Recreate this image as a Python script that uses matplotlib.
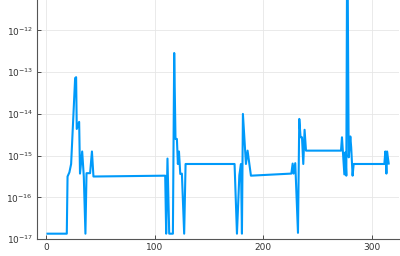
import numpy as np
import matplotlib
matplotlib.use("Agg")
import matplotlib.pyplot as plt

# breakpoints of the line (x = index, y = log10 value)
xs = [1, 18.8, 19.5, 21.2, 22.8, 26.5, 27.4, 28, 30.2, 31, 33, 34.5, 36, 37, 40.3,
      42, 43.4, 109.6, 110.5, 111.7, 113.3, 116.7, 117.9, 119.1, 120.4, 121.3, 122.3,
      123.5, 125, 127.1, 128.4, 173.6, 175.8, 178, 179.5, 180.4, 181.3, 184.1, 185.6,
      188.7, 226, 227.2, 228, 229.6, 232.1, 233.3, 234.5, 235.8, 237, 238.2, 239.5,
      271.8, 272.7, 274.9, 275.8, 276.7, 277.4, 277.9, 278.9, 280.4, 281.2, 282.5,
      283.5, 311.8, 312.7, 313.7, 314.3, 315.8]
log_vals = [-16.87, -16.87, -15.5, -15.4, -15.2, -13.14, -13.12, -14.36, -14.19, -15.43,
            -14.9, -15.5, -16.87, -15.42, -15.42, -14.9, -15.5, -15.48, -16.87, -15.07,
            -16.87, -16.87, -12.54, -14.6, -14.6, -15.2, -14.9, -15.44, -15.43, -16.87,
            -15.2, -15.2, -16.87, -15.47, -15.2, -16.87, -14.0, -15.2, -14.88, -15.48,
            -15.43, -15.19, -15.43, -15.18, -16.85, -14.12, -14.56, -14.56, -15.2, -14.38,
            -14.88, -14.88, -14.56, -15.45, -14.92, -15.48, -10.5, -10.5, -15.04, -14.54,
            -14.8, -15.48, -15.2, -15.2, -14.9, -15.43, -14.9, -15.19]

yticks = [1e-17, 1e-16, 1e-15, 1e-14, 1e-13, 1e-12]
ytick_labels = ["$10^{-17}$", "$10^{-16}$", "$10^{-15}$", "$10^{-14}$", "$10^{-13}$", "$10^{-12}$"]
xticks = [0, 100, 200, 300]

ys = 10.0 ** np.array(log_vals)

fig = plt.figure(figsize=(4, 2.56), dpi=100)
ax = fig.add_axes([0.093, 0.066, 0.905, 0.934])
ax.plot(xs, ys, color="#009AFA", lw=1.5)
ax.set_yscale("log")
ax.set_xlim(-8.5, 325.5)
ax.set_ylim(1e-17, 10 ** -11.27)
ax.set_yticks(yticks)
ax.set_yticklabels(ytick_labels)
ax.minorticks_off()
ax.set_xticks(xticks)
ax.grid(True, color="#e6e6e6", lw=0.6)
ax.tick_params(direction="in", length=3, width=0.6, labelsize=6.5, colors="#333333", pad=3)
for s in ["top", "right"]:
    ax.spines[s].set_visible(False)
for s in ["left", "bottom"]:
    ax.spines[s].set_color("#555555")
    ax.spines[s].set_linewidth(0.8)

plt.savefig("out.png", dpi=100)
